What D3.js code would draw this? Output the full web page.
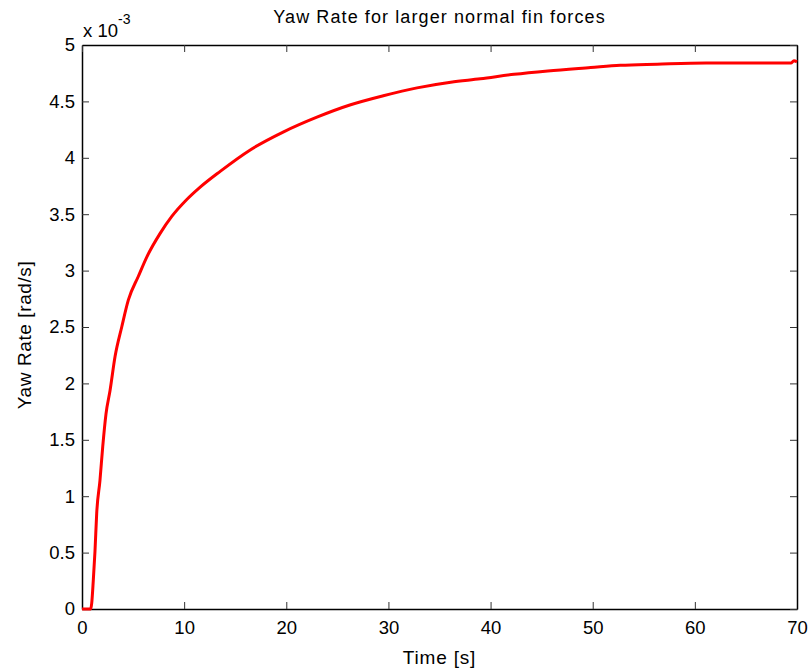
<!DOCTYPE html>
<html>
<head>
<meta charset="utf-8">
<script src="https://cdn.jsdelivr.net/npm/d3@7"></script>
<style>
  body { margin: 0; background: #fff; }
  svg text { font-family: "Liberation Sans", Arial, sans-serif; fill: #000; }
</style>
</head>
<body>
<script>
// time [s] and yaw rate [x 1e-3 rad/s]
const time = [0, 0.85, 0.95, 1.11, 1.27, 1.44, 1.76, 2.03, 2.35, 2.75, 3.24, 3.89, 4.54, 5.52, 6.34, 7.65, 8.79, 10.26, 11.57, 13.53, 16.47, 19.74, 23.0, 26.3, 29.5, 32.8, 36.1, 39.0, 42.3, 45.6, 49.8, 52.7, 56.3, 61.1, 69.4, 69.7, 70]
const yawRate = [0, 0, 0.05, 0.26, 0.51, 0.85, 1.14, 1.44, 1.73, 1.94, 2.24, 2.50, 2.74, 2.95, 3.12, 3.33, 3.48, 3.63, 3.74, 3.88, 4.07, 4.23, 4.36, 4.47, 4.55, 4.62, 4.67, 4.70, 4.74, 4.77, 4.80, 4.82, 4.83, 4.84, 4.84, 4.86, 4.85]
const xTicks = [0, 10, 20, 30, 40, 50, 60, 70]
const yTicks = [0, 0.5, 1, 1.5, 2, 2.5, 3, 3.5, 4, 4.5, 5]

const W = 810, H = 671
const margin = {top: 45, right: 13, bottom: 62, left: 82}
const width = W - margin.left - margin.right
const height = H - margin.top - margin.bottom

const svg = d3.select('body').append('svg')
  .attr('width', W)
  .attr('height', H)

const g = svg.append('g')
  .attr('transform', `translate(${margin.left},${margin.top})`)

const x = d3.scaleLinear().domain([0, 70]).range([0, width])
const y = d3.scaleLinear().domain([0, 5]).range([height, 0])

const fs = 18.5

// axes with inward ticks, MATLAB style
const xAxis = d3.axisBottom(x).tickValues(xTicks).tickSizeInner(-7).tickSizeOuter(0).tickPadding(12)
const yAxis = d3.axisLeft(y).tickValues(yTicks).tickSizeInner(-7).tickSizeOuter(0).tickPadding(7)
  .tickFormat(d => d)

const gx = g.append('g').attr('transform', `translate(0,${height})`).call(xAxis)
const gy = g.append('g').call(yAxis)
const gxTop = g.append('g').call(d3.axisTop(x).tickValues(xTicks).tickSizeInner(-7).tickSizeOuter(0).tickFormat(''))
const gyRight = g.append('g').attr('transform', `translate(${width},0)`)
  .call(d3.axisRight(y).tickValues(yTicks).tickSizeInner(-7).tickSizeOuter(0).tickFormat(''))

;[gx, gy, gxTop, gyRight].forEach(a => {
  a.select('.domain').attr('stroke', '#000').attr('stroke-width', 1.5)
  a.selectAll('.tick line').attr('stroke', '#333').attr('stroke-width', 1)
  a.selectAll('.tick text').attr('font-size', fs).attr('font-family', '"Liberation Sans", Arial, sans-serif').attr('fill', '#000')
})

// the curve
const line = d3.line()
  .x((d, i) => x(time[i]))
  .y(d => y(d))
  .curve(d3.curveMonotoneX)

g.append('path')
  .datum(yawRate)
  .attr('fill', 'none')
  .attr('stroke', '#ff0000')
  .attr('stroke-width', 3)
  .attr('stroke-linejoin', 'round')
  .attr('d', line)

// title and labels
svg.append('text')
  .attr('x', margin.left + width / 2)
  .attr('y', 23)
  .attr('text-anchor', 'middle')
  .attr('font-size', 18)
  .attr('letter-spacing', 1.1)
  .text('Yaw Rate for larger normal fin forces')

svg.append('text')
  .attr('x', margin.left + width / 2)
  .attr('y', 664)
  .attr('text-anchor', 'middle')
  .attr('font-size', 19)
  .attr('letter-spacing', 0.8)
  .text('Time [s]')

svg.append('text')
  .attr('transform', `translate(31,${margin.top + height / 2 + 8}) rotate(-90)`)
  .attr('text-anchor', 'middle')
  .attr('font-size', 19)
  .attr('letter-spacing', 0.6)
  .text('Yaw Rate [rad/s]')

// exponent label
const exp = svg.append('text')
  .attr('x', 83)
  .attr('y', 37)
  .attr('font-size', fs)
exp.append('tspan').text('x 10')
exp.append('tspan').attr('dy', -13).attr('font-size', 14).text('-3')
</script>
</body>
</html>
